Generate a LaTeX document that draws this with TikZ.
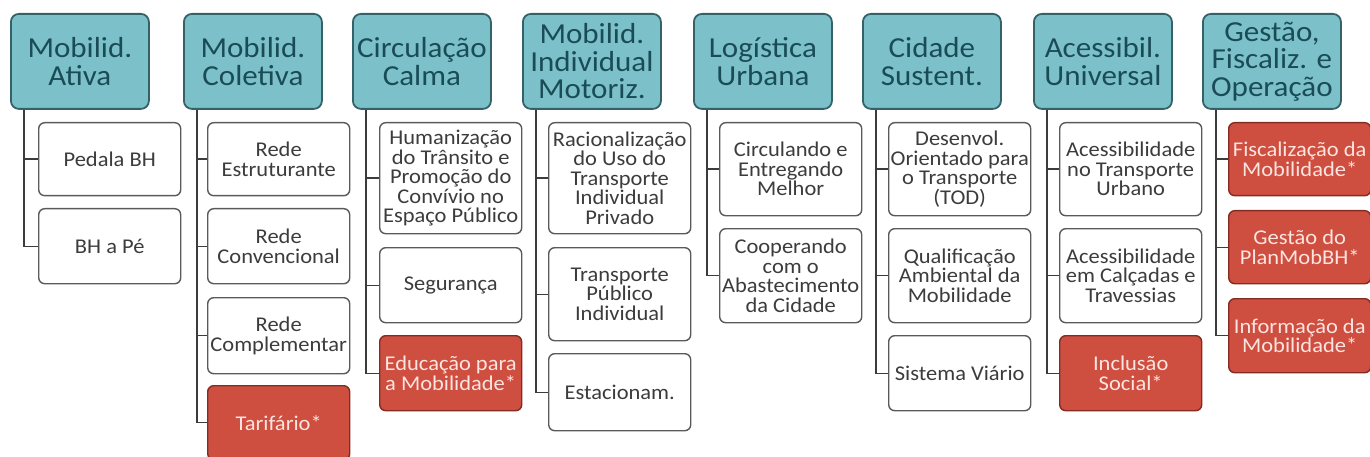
\documentclass[tikz,border=0pt]{standalone}
\usepackage{fontspec}
\setmainfont[FakeStretch=1.07]{Carlito}
\definecolor{headfill}{RGB}{124,193,202}
\definecolor{headdraw}{RGB}{52,98,104}
\definecolor{headtext}{RGB}{26,76,86}
\definecolor{childdraw}{RGB}{90,90,90}
\definecolor{childtext}{RGB}{60,60,60}
\definecolor{redfill}{RGB}{206,78,64}
\definecolor{reddraw}{RGB}{130,44,36}
\definecolor{redtext}{RGB}{252,228,224}
\definecolor{linecol}{RGB}{60,60,60}
\tikzset{
  headbox/.style={draw=headdraw, line width=1.8pt, fill=headfill, rounded corners=8pt,
    anchor=north west, minimum width=138pt, minimum height=95pt, inner sep=1pt,
    align=center, text=headtext, font=\fontsize{29}{27.5}\selectfont},
  childbox/.style={draw=childdraw, line width=1.4pt, fill=white, rounded corners=6pt,
    anchor=north west, minimum width=142pt, inner sep=1pt,
    align=center, text=childtext, font=\fontsize{21}{19.5}\selectfont},
  redbox/.style={childbox, draw=reddraw, fill=redfill, text=redtext},
  link/.style={draw=linecol, line width=1.4pt}
}
\begin{document}
\begin{tikzpicture}[x=1pt,y=-1pt]
\useasboundingbox (0,0) rectangle (1370,457);
\begin{scope}
\clip (0,0) rectangle (1370,457);
% headers
\node[headbox] (h1) at (10,13) {Mobilid.\\Ativa};
\node[headbox] (h2) at (183,13) {Mobilid.\\Coletiva};
\node[headbox] (h3) at (352,13) {Circulação\\Calma};
\node[headbox] (h4) at (522,13) {Mobilid.\\Individual\\Motoriz.};
\node[headbox] (h5) at (693,13) {Logística\\Urbana};
\node[headbox] (h6) at (862,13) {Cidade\\Sustent.};
\node[headbox] (h7) at (1033,13) {Acessibil.\\Universal};
\node[headbox] (h8) at (1202,13) {Gestão,\\Fiscaliz. e\\Operação};
% column 1
\node[childbox, minimum height=73pt] (c11) at (38,122) {Pedala BH};
\node[childbox, minimum height=75pt] (c12) at (38,208) {BH a Pé};
% column 2
\node[childbox, minimum height=73pt] (c21) at (207,122) {Rede\\Estruturante};
\node[childbox, minimum height=75pt] (c22) at (207,208) {Rede\\Convencional};
\node[childbox, minimum height=76pt] (c23) at (207,297) {Rede\\Complementar};
\node[redbox, minimum height=74pt] (c24) at (207,385) {Tarifário*};
% column 3
\node[childbox, minimum height=111pt] (c31) at (379,122) {Humanização\\do Trânsito e\\Promoção do\\Convívio no\\Espaço Público};
\node[childbox, minimum height=75pt] (c32) at (379,247) {Segurança};
\node[redbox, minimum height=75pt] (c33) at (379,335) {Educação para\\a Mobilidade*};
% column 4
\node[childbox, minimum height=111pt] (c41) at (548,122) {Racionalização\\do Uso do\\Transporte\\Individual\\Privado};
\node[childbox, minimum height=93pt] (c42) at (548,247) {Transporte\\Público\\Individual};
\node[childbox, minimum height=77pt] (c43) at (548,353) {Estacionam.};
% column 5
\node[childbox, minimum height=93pt] (c51) at (719,122) {Circulando e\\Entregando\\Melhor};
\node[childbox, minimum height=94pt] (c52) at (719,228) {Cooperando\\com o\\Abastecimento\\da Cidade};
% column 6
\node[childbox, minimum height=93pt] (c61) at (888,122) {Desenvol.\\Orientado para\\o Transporte\\(TOD)};
\node[childbox, minimum height=94pt] (c62) at (888,228) {Qualificação\\Ambiental da\\Mobilidade};
\node[childbox, minimum height=75pt] (c63) at (888,335) {Sistema Viário};
% column 7
\node[childbox, minimum height=93pt] (c71) at (1059,122) {Acessibilidade\\no Transporte\\Urbano};
\node[childbox, minimum height=94pt] (c72) at (1059,228) {Acessibilidade\\em Calçadas e\\Travessias};
\node[redbox, minimum height=75pt] (c73) at (1059,335) {Inclusão\\Social*};
% column 8
\node[redbox, minimum height=73pt] (c81) at (1228,122) {Fiscalização da\\Mobilidade*};
\node[redbox, minimum height=73pt] (c82) at (1228,210) {Gestão do\\PlanMobBH*};
\node[redbox, minimum height=74pt] (c83) at (1228,298) {Informação da\\Mobilidade*};
% connectors
\foreach \h/\c in {h1/c11,h1/c12,h2/c21,h2/c22,h2/c23,h2/c24,h3/c31,h3/c32,h3/c33,
  h4/c41,h4/c42,h4/c43,h5/c51,h5/c52,h6/c61,h6/c62,h6/c63,h7/c71,h7/c72,h7/c73,
  h8/c81,h8/c82,h8/c83}
  \draw[link] ([xshift=14pt]\h.south west) |- (\c.west);
\end{scope}
\end{tikzpicture}
\end{document}
